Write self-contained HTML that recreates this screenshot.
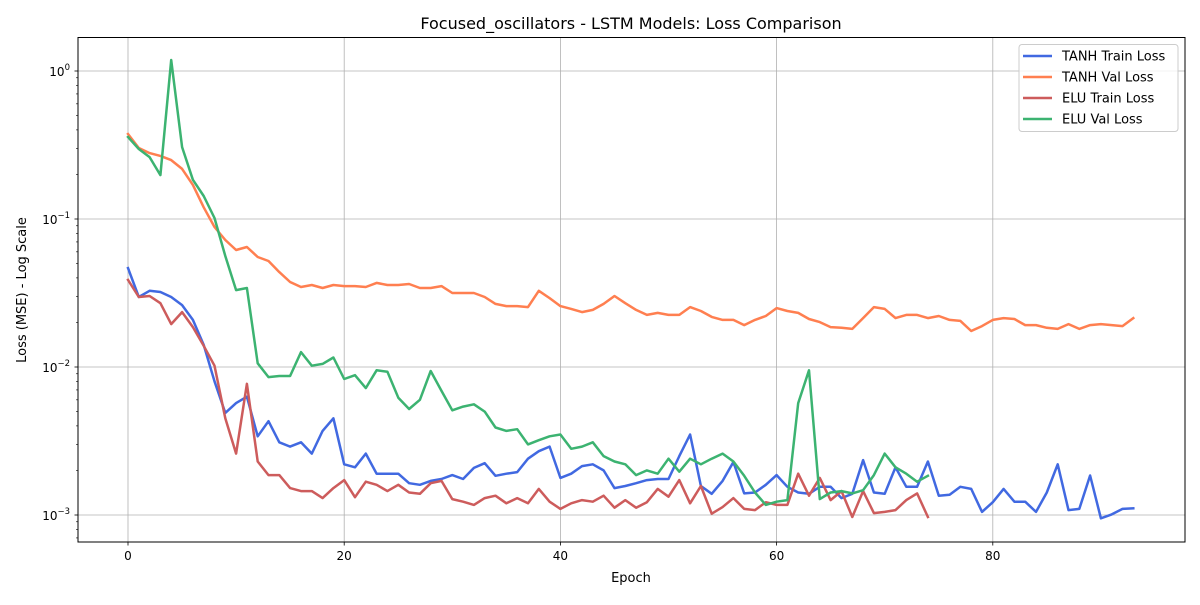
<!DOCTYPE html>
<html><head><meta charset="utf-8"><style>
body{margin:0;background:#fff}
svg{font-family:"DejaVu Sans","Liberation Sans",sans-serif}
</style></head><body>
<svg id="c" width="1200" height="600" xmlns="http://www.w3.org/2000/svg">
<rect width="1200" height="600" fill="#fff"/>
<text x="631" y="29" text-anchor="middle" font-size="16">Focused_oscillators - LSTM Models: Loss Comparison</text>
<g id="grid"></g>
<g id="lines"></g>
<rect x="78" y="37.5" width="1107" height="504.5" fill="none" stroke="#000" stroke-width="1"/>
<g id="ticks"></g>
<text x="631" y="582" text-anchor="middle" font-size="13">Epoch</text>
<text transform="translate(26,290) rotate(-90)" text-anchor="middle" font-size="13">Loss (MSE) - Log Scale</text>
<g id="legend">
<rect x="1019" y="44.5" width="159" height="87" rx="3" fill="#fff" fill-opacity="0.8" stroke="#ccc"/>
</g>
</svg>
<script>
const tanhTrain=[0.0466,0.0297,0.0327,0.0321,0.0297,0.0262,0.0208,0.0141,0.0080,0.0049,0.0057,0.0063,0.0034,0.0043,0.0031,0.0029,0.0031,0.0026,0.0037,0.0045,0.0022,0.0021,0.0026,0.0019,0.0019,0.0019,0.00164,0.0016,0.0017,0.00175,0.00186,0.00175,0.00208,0.00224,0.00184,0.0019,0.00195,0.0024,0.0027,0.0029,0.00178,0.0019,0.00214,0.0022,0.002,0.00152,0.00157,0.00164,0.00172,0.00175,0.00175,0.0025,0.0035,0.00157,0.00139,0.0017,0.00228,0.0014,0.00142,0.0016,0.00186,0.00155,0.00142,0.00139,0.00155,0.00155,0.0013,0.00139,0.00235,0.00142,0.00139,0.0021,0.00155,0.00155,0.0023,0.00135,0.00137,0.00155,0.0015,0.00105,0.00122,0.0015,0.00123,0.00123,0.00105,0.00142,0.0022,0.00108,0.0011,0.00185,0.00095,0.00101,0.0011,0.00111];
const tanhVal=[0.375,0.302,0.279,0.267,0.25,0.218,0.17,0.12,0.0883,0.0721,0.0617,0.0647,0.0554,0.052,0.0438,0.0375,0.0347,0.0358,0.0342,0.0358,0.0352,0.0352,0.0347,0.037,0.0358,0.0358,0.0364,0.0342,0.0342,0.0352,0.0316,0.0316,0.0316,0.0297,0.0267,0.0258,0.0258,0.0254,0.0327,0.0292,0.0258,0.0247,0.0235,0.0243,0.0267,0.0302,0.027,0.0243,0.0225,0.0232,0.0225,0.0225,0.0254,0.0239,0.0218,0.0208,0.0208,0.0192,0.0208,0.0221,0.025,0.0239,0.0232,0.0211,0.0201,0.0186,0.0184,0.0181,0.0214,0.0254,0.0247,0.0214,0.0225,0.0225,0.0214,0.0221,0.0208,0.0205,0.0175,0.0189,0.0208,0.0214,0.0211,0.0192,0.0192,0.0184,0.0181,0.0195,0.0181,0.0192,0.0195,0.0192,0.0189,0.0214];
const eluTrain=[0.0388,0.0297,0.0302,0.027,0.0195,0.0235,0.0186,0.0139,0.0102,0.0045,0.0026,0.0077,0.0023,0.00186,0.00186,0.00152,0.00145,0.00145,0.0013,0.00152,0.00172,0.00132,0.00168,0.0016,0.00145,0.0016,0.00142,0.00139,0.00164,0.0017,0.00128,0.00123,0.00117,0.0013,0.00135,0.0012,0.0013,0.0012,0.0015,0.00123,0.0011,0.0012,0.00126,0.00123,0.00135,0.00112,0.00126,0.00112,0.00122,0.0015,0.00133,0.00172,0.0012,0.00157,0.00102,0.00113,0.0013,0.0011,0.00108,0.00122,0.00117,0.00117,0.0019,0.00135,0.00178,0.00126,0.00145,0.00097,0.00145,0.00103,0.00105,0.00108,0.00126,0.0014,0.00097];
const eluVal=[0.358,0.297,0.262,0.198,1.186,0.306,0.184,0.143,0.1016,0.0562,0.0331,0.0342,0.0106,0.00855,0.0087,0.0087,0.0126,0.0102,0.0105,0.0116,0.0083,0.0088,0.0072,0.0095,0.0093,0.0062,0.0052,0.006,0.0094,0.0069,0.0051,0.0054,0.0056,0.005,0.0039,0.0037,0.0038,0.003,0.0032,0.0034,0.0035,0.0028,0.0029,0.0031,0.0025,0.0023,0.0022,0.00186,0.002,0.0019,0.0024,0.00196,0.0024,0.0022,0.0024,0.0026,0.0023,0.00184,0.00142,0.00117,0.00123,0.00126,0.0057,0.0095,0.00128,0.00142,0.00145,0.0014,0.00147,0.00186,0.0026,0.0021,0.0019,0.00168,0.00184];
const xTicks=[0,20,40,60,80];
const yTicks=[0,-1,-2,-3];
const seriesNames=["TANH Train Loss","TANH Val Loss","ELU Train Loss","ELU Val Loss"];
const seriesData=[tanhTrain,tanhVal,eluTrain,eluVal];
const seriesColors=["#4169e1","#ff7f50","#cd5c5c","#3cb371"];
const seriesKeys=["tanh-train-line","tanh-val-line","elu-train-line","elu-val-line"];

const NS="http://www.w3.org/2000/svg";
const X=e=>128+e*10.81;
const Y=v=>71-148*Math.log10(v);
function mk(tag,attrs,parent){const el=document.createElementNS(NS,tag);for(const k in attrs)el.setAttribute(k,attrs[k]);parent.appendChild(el);return el;}
const grid=document.getElementById('grid'),ticks=document.getElementById('ticks'),lines=document.getElementById('lines'),legend=document.getElementById('legend');
xTicks.forEach(t=>{
  const x=X(t);
  const g=mk('line',{x1:x,x2:x,y1:37.5,y2:542,stroke:'#b0b0b0','stroke-width':0.8},grid);
  
  
  const tk=mk('line',{x1:x,x2:x,y1:542,y2:545.5,stroke:'#000','stroke-width':0.8},ticks);
  
  
  const tx=mk('text',{x:x,y:560,'text-anchor':'middle','font-size':12},ticks);
  tx.textContent=t;
  
  
});
yTicks.forEach(p=>{
  const y=Y(Math.pow(10,p));
  const g=mk('line',{x1:78,x2:1185,y1:y,y2:y,stroke:'#b0b0b0','stroke-width':0.8},grid);
  
  
  const tk=mk('line',{x1:74.5,x2:78,y1:y,y2:y,stroke:'#000','stroke-width':0.8},ticks);
  
  
  const tx=mk('text',{x:70,y:y+5,'text-anchor':'end','font-size':12},ticks);
  
  
  tx.textContent='10';
  const sp=mk('tspan',{dy:-6,'font-size':8.5},tx);
  sp.textContent=(p<0?'\u2212':'')+Math.abs(p);
});
for(let p=-4;p<=0;p++){for(let m=2;m<=9;m++){
  const y=Y(m*Math.pow(10,p));
  if(y<37.5||y>542)continue;
  const tk=mk('line',{x1:76,x2:78,y1:y,y2:y,stroke:'#000','stroke-width':0.6},ticks);
  
  
}}
seriesData.forEach((d,i)=>{
  const pts=d.map((v,e)=>X(e).toFixed(1)+','+Y(v).toFixed(1)).join(' ');
  const pl=mk('polyline',{points:pts,fill:'none',stroke:seriesColors[i],'stroke-width':2.5,'stroke-linejoin':'round','stroke-linecap':'square'},lines);
  
  
  const ly=56+i*21;
  const ll=mk('line',{x1:1023,x2:1052,y1:ly,y2:ly,stroke:seriesColors[i],'stroke-width':2.5},legend);
  
  
  const lt=mk('text',{x:1062,y:ly+4.5,'font-size':13},legend);
  lt.textContent=seriesNames[i];
  
  
});
</script>
</body></html>
